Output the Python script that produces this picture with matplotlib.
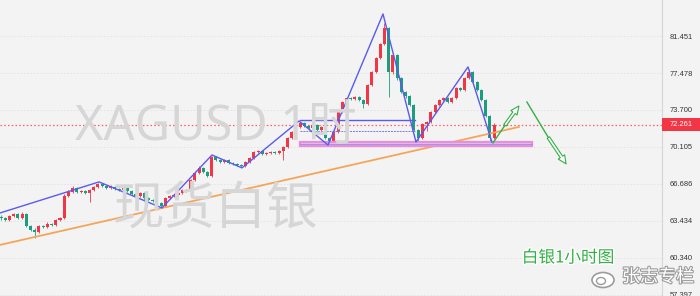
import matplotlib
matplotlib.use('Agg')
import matplotlib.pyplot as plt
import matplotlib.patheffects as pe
from matplotlib.patches import Rectangle, Ellipse
from matplotlib.transforms import IdentityTransform
from matplotlib.ticker import NullLocator

# XAGUSD 1h candles (red = up, green = down)
opens = [63.80, 63.69, 63.52, 63.87, 64.04, 63.69, 64.04, 63.00, 62.67, 62.50,
         63.00, 62.92, 63.18, 63.09, 63.52, 63.69, 65.62, 65.97, 66.33, 65.97,
         66.06, 65.88, 66.15, 66.42, 66.69, 66.51, 66.33, 66.42, 66.24, 66.15,
         66.33, 66.06, 65.79, 65.62, 65.88, 65.44, 65.27, 65.18, 65.00, 64.74,
         65.44, 65.62, 65.70, 65.88, 66.15, 66.06, 67.05, 67.68, 68.15, 67.78,
         67.41, 69.17, 68.89, 68.70, 68.89, 68.61, 68.52, 68.42, 68.33, 68.70,
         69.07, 69.63, 69.73, 69.45, 69.54, 69.63, 69.54, 69.73, 70.11, 70.96,
         71.55, 72.03, 72.42, 72.13, 71.93, 72.23, 71.74, 72.03, 70.96, 70.58,
         71.55, 73.50, 74.50, 74.91, 74.81, 75.01, 74.70, 74.30, 76.24, 77.59,
         79.07, 80.58, 82.35, 77.59, 79.40, 76.96, 75.52, 75.11, 74.20, 71.74,
         70.96, 72.33, 72.52, 73.50, 74.20, 74.70, 74.91, 74.50, 74.91, 75.93,
         75.72, 76.96, 77.59, 76.55, 75.72, 74.70, 73.11, 70.96]
closes = [63.69, 63.52, 63.87, 64.04, 63.69, 64.04, 63.00, 62.67, 62.50, 63.00,
          62.92, 63.18, 63.09, 63.52, 63.69, 65.62, 65.97, 66.33, 65.97, 66.06,
          65.88, 66.15, 66.42, 66.69, 66.51, 66.33, 66.42, 66.24, 66.15, 66.33,
          66.06, 65.79, 65.62, 65.88, 65.44, 65.27, 65.18, 65.00, 64.74, 65.44,
          65.62, 65.70, 65.88, 66.15, 66.06, 67.05, 67.68, 68.15, 67.78, 67.41,
          69.17, 68.89, 68.70, 68.89, 68.61, 68.52, 68.42, 68.33, 68.70, 69.07,
          69.63, 69.73, 69.45, 69.54, 69.63, 69.54, 69.73, 70.11, 70.96, 71.55,
          72.03, 72.42, 72.13, 71.93, 72.23, 71.74, 72.03, 70.96, 70.58, 71.55,
          73.50, 74.50, 74.91, 74.81, 75.01, 74.70, 74.30, 76.24, 77.59, 79.07,
          80.58, 82.35, 77.59, 79.40, 76.96, 75.52, 75.11, 74.20, 71.74, 70.96,
          72.33, 72.52, 73.50, 74.20, 74.70, 74.91, 74.50, 74.91, 75.93, 75.72,
          76.96, 77.59, 76.55, 75.72, 74.70, 73.11, 70.96, 72.26]
highs = [63.95, 63.80, 63.98, 64.15, 64.10, 64.20, 64.08, 63.10, 62.80, 63.10,
         63.12, 63.30, 63.28, 63.62, 63.80, 65.75, 66.10, 66.50, 66.40, 66.18,
         66.15, 66.25, 66.52, 66.80, 66.78, 66.60, 66.55, 66.50, 66.35, 66.45,
         66.40, 66.12, 65.88, 66.00, 65.95, 65.52, 65.35, 65.25, 65.08, 65.55,
         65.72, 65.82, 65.98, 66.25, 66.22, 67.15, 67.80, 68.30, 68.22, 67.85,
         69.28, 69.25, 68.98, 69.00, 68.95, 68.70, 68.60, 68.50, 68.80, 69.18,
         69.75, 69.85, 69.80, 69.65, 69.74, 69.70, 69.82, 70.22, 71.08, 71.66,
         72.15, 72.55, 72.50, 72.22, 72.35, 72.30, 72.15, 72.10, 71.05, 71.68,
         73.62, 74.62, 75.05, 75.00, 75.12, 75.08, 74.78, 76.35, 77.72, 79.20,
         80.72, 82.90, 82.45, 79.60, 79.50, 77.10, 75.65, 75.20, 74.30, 71.85,
         72.45, 72.65, 73.62, 74.32, 74.82, 75.02, 74.98, 75.02, 76.05, 76.05,
         77.08, 77.90, 77.68, 76.62, 75.80, 74.80, 73.20, 72.40]
lows = [63.55, 63.40, 63.45, 63.80, 63.60, 63.62, 62.90, 62.55, 62.00, 62.40,
        62.80, 62.85, 62.98, 63.00, 63.45, 63.60, 65.50, 65.90, 65.85, 65.90,
        65.78, 65.10, 66.05, 66.35, 66.40, 66.25, 66.25, 66.15, 66.05, 66.08,
        65.98, 65.70, 65.50, 65.55, 65.20, 65.18, 65.05, 64.90, 64.60, 64.68,
        65.35, 65.55, 65.62, 65.80, 65.95, 66.00, 66.98, 67.60, 67.70, 67.30,
        67.35, 68.80, 68.60, 68.62, 68.50, 68.42, 68.35, 68.22, 68.25, 68.62,
        69.00, 69.55, 69.35, 69.38, 69.46, 69.45, 69.46, 68.90, 70.05, 70.88,
        71.48, 71.95, 72.02, 71.82, 71.85, 71.62, 71.66, 70.85, 70.40, 70.50,
        71.48, 73.42, 74.42, 74.70, 74.72, 74.60, 73.90, 74.22, 76.15, 77.50,
        78.98, 80.50, 75.00, 77.40, 76.80, 75.40, 74.95, 74.05, 71.60, 70.58,
        70.88, 71.60, 72.45, 73.42, 74.10, 74.60, 74.40, 74.42, 74.82, 75.60,
        75.65, 76.88, 76.45, 75.60, 74.58, 72.98, 70.55, 70.90]

last_price = 72.261
price_ticks = [57.397, 60.340, 63.434, 66.686, 70.105, 73.700, 77.478, 81.451]

# hand drawn analysis lines, as (candle index, price)
zigzag_x = [-0.24, 23.26, 38.2, 50.07, 57.19, 70.72, 77.6, 90.65, 98.48, 110.82, 116.5]
zigzag_p = [64.12, 66.87, 64.56, 69.35, 68.15, 72.61, 70.29, 83.92, 70.58, 78.12, 70.58]
trend_x = [-0.24, 122.9]
trend_p = [61.41, 72.03]
box_x = [71.0, 98.2]
box_top = 72.71
box_mid = 71.65
band_x = [71.0, 126.0]
band_lo, band_hi = 70.20, 70.58
arrow_up = [(116.75, 70.49), (119.6, 72.2), (122.9, 74.10)]
arrow_down = [(124.8, 74.50), (129.9, 71.0), (134.1, 68.52)]

UP = '#f23645'
DOWN = '#1a9e7e'
BG = '#f3f3f3'
CJK = ['Noto Sans CJK SC', 'DejaVu Sans']

plt.rcParams['font.family'] = ['Liberation Sans', 'DejaVu Sans']

fig = plt.figure(figsize=(7, 2.96), dpi=100)
fig.patch.set_facecolor(BG)
ax = fig.add_axes([0, 0, 662 / 700, 1])
ax.set_facecolor(BG)

ax.set_yscale('log')
ax.set_ylim(57.31, 85.52)
ax.set_xlim(-0.24, 156.86)

# grid
for t in price_ticks:
    ax.axhline(t, color='#e2e2e2', lw=0.6, ls=(0, (2, 2)), zorder=0)

# watermarks
fig.text(75 / 700, 1 - 127 / 296, 'XAGUSD 1时', family=['Noto Sans', 'Noto Sans CJK SC'],
         fontsize=35, color='#d6d6d6', va='center', ha='left', zorder=0)
fig.text(113 / 700, 1 - 209 / 296, '现货白银', family=CJK,
         fontsize=37, color='#d6d6d6', va='center', ha='left', zorder=0)

# current price line
ax.axhline(last_price, color='#ff5a6a', lw=0.9, ls=(0, (1.2, 1.8)), zorder=2)

# candles
x = list(range(len(closes)))
for i in x:
    o, c, h, l = opens[i], closes[i], highs[i], lows[i]
    col = UP if c >= o else DOWN
    ax.vlines(i, l, h, color=col, lw=0.6, zorder=3)
    lo, hi = min(o, c), max(o, c)
    if hi - lo < 0.03:
        hi = lo + 0.03
    ax.bar(i, hi - lo, bottom=lo, width=0.72, color=col, lw=0, zorder=3)

# analysis drawings
ax.plot(trend_x, trend_p, color='#f5a55a', lw=1.3, zorder=4)
ax.add_patch(Rectangle((band_x[0], band_lo), band_x[1] - band_x[0], band_hi - band_lo,
                       fc='#c9c9f7', ec='#f28bd4', lw=1.6, zorder=4))
ax.plot(band_x, [(band_lo * band_hi) ** 0.5] * 2, color='#8f8ff0', lw=0.6, zorder=4)
ax.plot(box_x, [box_top] * 2, color='#5a5af0', lw=1.0, zorder=5)
ax.plot(box_x, [box_mid] * 2, color='#7a7af0', lw=0.7, ls=(0, (2, 1)), zorder=5)
ax.plot(zigzag_x, zigzag_p, color='#5a5af0', lw=1.0, zorder=5)

GREEN = '#33b044'
for pts in (arrow_up, arrow_down):
    ax.plot([pts[0][0], pts[1][0]], [pts[0][1], pts[1][1]], color=GREEN, lw=1.0, zorder=6)
    ax.annotate('', xy=pts[2], xytext=pts[1], zorder=6,
                arrowprops=dict(arrowstyle='simple,head_width=0.55,head_length=0.6,tail_width=0.2',
                                fc='white', ec=GREEN, lw=0.8, mutation_scale=10,
                                shrinkA=0, shrinkB=0))

# right price axis
ax.yaxis.tick_right()
ax.set_yticks(price_ticks, labels=[f'{t:.3f}' for t in price_ticks])
ax.yaxis.set_minor_locator(NullLocator())
ax.tick_params(axis='y', length=0, pad=5.8, labelsize=5.4, labelcolor='#333333')
ax.set_xticks([])
for side in ('top', 'left', 'bottom'):
    ax.spines[side].set_visible(False)
ax.spines['right'].set_color('#d6d6d6')
ax.spines['right'].set_linewidth(0.8)
ax.text(1 + 8 / 662, 1 + 3 / 296, '85.627', transform=ax.transAxes, fontsize=5.4,
        color='#333333', va='center', ha='left', clip_on=False)

# last price tag
fig.canvas.draw()
ypix = ax.transData.transform((0, last_price))[1]
fig.patches.append(Rectangle((662, ypix - 6.5), 38, 13, transform=IdentityTransform(),
                             fc=UP, ec='none', zorder=10))
fig.text(670 / 700, ypix / 296, f'{last_price:.3f}', color='white', fontsize=5.4,
         va='center', ha='left', zorder=11)

# captions
fig.text(568 / 700, 1 - 258 / 296, '白银1小时图', family=CJK, fontsize=12, color=GREEN,
         ha='center', va='center', zorder=12,
         path_effects=[pe.withStroke(linewidth=2, foreground='white')])
fig.text(622 / 700, 1 - 277 / 296, '张志专栏', family=CJK, fontsize=13, color='white',
         ha='left', va='center', zorder=12,
         path_effects=[pe.withStroke(linewidth=1.6, foreground='#9c9c9c')])
fig.patches.append(Ellipse((603, 296 - 280), 22, 15, transform=IdentityTransform(),
                           fc='white', ec='#9c9c9c', lw=1.2, zorder=12))
fig.patches.append(Ellipse((601, 296 - 281), 9, 7, transform=IdentityTransform(),
                           fc='white', ec='#9c9c9c', lw=1.0, zorder=13))

fig.savefig('out.png', dpi=100, facecolor=BG)
